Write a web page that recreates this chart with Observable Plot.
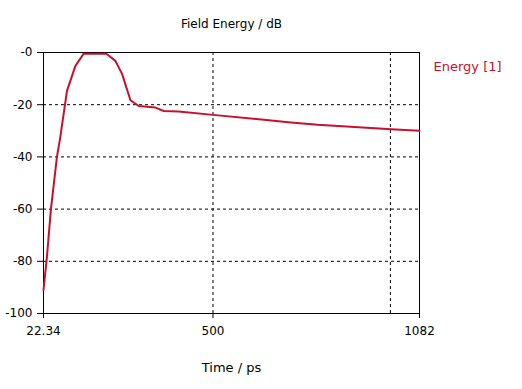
<!DOCTYPE html>
<html>
<head>
<meta charset="utf-8">
<script src="https://cdn.jsdelivr.net/npm/d3@7"></script>
<script src="https://cdn.jsdelivr.net/npm/@observablehq/plot@0.6"></script>
<style>
  html, body { margin: 0; padding: 0; background: #fff; }
  #chart svg { display: block; }
</style>
</head>
<body>
<div id="chart"></div>
<script>
// Data
const times  = [22.34, 31.9, 43.3, 60.2, 69.5, 88.5, 112, 135.4, 199.6, 225, 244, 267.4, 290.9, 338, 361.5, 403, 500, 719.6, 795, 1002, 1082];
const energy = [-91, -78.5, -60, -40, -32.6, -14.7, -5.2, -0.5, -0.5, -3.2, -8.3, -18.3, -20.5, -21.1, -22.4, -22.6, -23.9, -26.8, -27.7, -29.4, -30];
const xTicks = [22.34, 500, 1082];
const xGrid = [500, 1000];
const yTicks = [0, -20, -40, -60, -80, -100];
const yGrid = [-20, -40, -60, -80];
const title = "Field Energy / dB";
const xLabel = "Time / ps";
const seriesName = "Energy [1]";

const data = times.map((t, i) => ({t, e: energy[i]}));
const red = "#c8102e";

const chart = Plot.plot({
  width: 522,
  height: 389,
  marginLeft: 43,
  marginRight: 103,
  marginTop: 52,
  marginBottom: 76,
  style: {fontFamily: "DejaVu Sans", fontSize: "12px", color: "black", background: "white"},
  x: {domain: [22.34, 1082]},
  y: {domain: [-100, 0]},
  marks: [
    Plot.ruleX(xGrid, {stroke: "black", strokeDasharray: "3,3", strokeWidth: 1}),
    Plot.ruleY(yGrid, {stroke: "black", strokeDasharray: "3,3", strokeWidth: 1}),
    Plot.axisX({ticks: xTicks, tickFormat: d => String(d), tickSize: 5, tickPadding: 8, label: null, fontSize: 12}),
    Plot.axisY({ticks: yTicks, tickFormat: d => d === 0 ? "-0" : String(d), tickSize: 6, tickPadding: 5, label: null, fontSize: 12}),
    Plot.frame({stroke: "black", strokeWidth: 1}),
    Plot.line(data, {x: "t", y: "e", stroke: red, strokeWidth: 2}),
    Plot.text([title], {frameAnchor: "top", dy: -33, fontSize: 12, fill: "black"}),
    Plot.text([xLabel], {frameAnchor: "bottom", dy: 58, fontSize: 13, fill: "black"}),
    Plot.text([seriesName], {frameAnchor: "top-right", textAnchor: "start", dx: 14, dy: 9, fontSize: 13, fill: red})
  ]
});
document.getElementById("chart").appendChild(chart);
</script>
</body>
</html>
